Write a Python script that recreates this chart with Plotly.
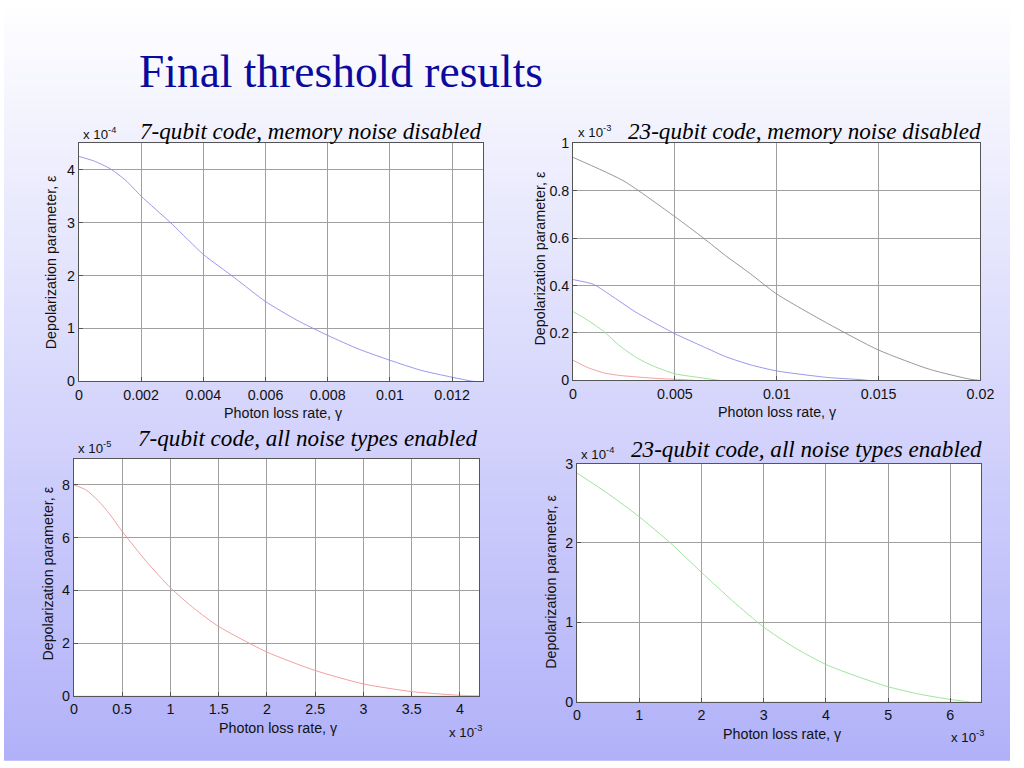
import plotly.graph_objects as go

# ---------------- data ----------------
# Panel 1: 7-qubit code, memory noise disabled  (eps in units of 1e-4)
p1_gamma = [0, 0.0005, 0.001, 0.0015, 0.002, 0.003, 0.004, 0.005, 0.006, 0.007, 0.008, 0.009, 0.010, 0.011, 0.012, 0.0127, 0.013]
p1_eps = [4.25, 4.16, 4.02, 3.80, 3.50, 2.97, 2.40, 1.96, 1.51, 1.16, 0.87, 0.61, 0.40, 0.21, 0.08, 0.0, 0.0]

# Panel 2: 23-qubit code, memory noise disabled (eps in units of 1e-3)
p2_gamma_black = [0, 0.0025, 0.005, 0.0064, 0.0075, 0.0087, 0.01, 0.0125, 0.015, 0.0175, 0.0195, 0.02]
p2_eps_black = [0.94, 0.84, 0.69, 0.60, 0.525, 0.45, 0.364, 0.24, 0.128, 0.047, 0.005, 0.0]
p2_gamma_blue = [0, 0.001, 0.002, 0.003, 0.004, 0.005, 0.0064, 0.0075, 0.0087, 0.01, 0.0125, 0.014, 0.0145]
p2_eps_blue = [0.425, 0.405, 0.35, 0.292, 0.243, 0.197, 0.142, 0.10, 0.066, 0.04, 0.0125, 0.004, 0.0]
p2_gamma_green = [0, 0.0007, 0.0015, 0.0023, 0.0031, 0.0039, 0.005, 0.0064, 0.0072]
p2_eps_green = [0.29, 0.255, 0.207, 0.145, 0.097, 0.062, 0.028, 0.01, 0.0]
p2_gamma_red = [0, 0.0007, 0.0015, 0.0023, 0.0031, 0.004, 0.005, 0.006]
p2_eps_red = [0.085, 0.055, 0.032, 0.021, 0.015, 0.009, 0.005, 0.0]

# Panel 3: 7-qubit code, all noise types enabled (gamma in 1e-3, eps in 1e-5)
p3_gamma = [0, 0.125, 0.25, 0.375, 0.5, 0.75, 1.0, 1.25, 1.5, 2.0, 2.5, 3.0, 3.5, 4.0, 4.2]
p3_eps = [8.0, 7.81, 7.41, 6.87, 6.24, 5.1, 4.1, 3.3, 2.63, 1.66, 0.96, 0.45, 0.16, 0.02, 0.0]

# Panel 4: 23-qubit code, all noise types enabled (gamma in 1e-3, eps in 1e-4)
p4_gamma = [0, 0.5, 1.0, 1.5, 2.0, 2.5, 3.0, 3.5, 4.0, 4.5, 5.0, 5.5, 6.0, 6.3]
p4_eps = [2.88, 2.62, 2.33, 2.0, 1.63, 1.27, 0.94, 0.68, 0.47, 0.32, 0.19, 0.097, 0.03, 0.0]

title_text = "Final threshold results"
subtitles = ["7-qubit code, memory noise disabled",
             "23-qubit code, memory noise disabled",
             "7-qubit code, all noise types enabled",
             "23-qubit code, all noise types enabled"]
xlabel = "Photon loss rate, γ"
ylabel = "Depolarization parameter, ε"

# ---------------- figure ----------------
W, H = 1024, 768
fig = go.Figure()

# the photographed page appears slightly scaled/offset; positions below are
# given in target-picture pixels and converted here
SX, OX = 0.984, 3.0
SY, OY = 0.978, 8.0
FS = 0.981

def px(x):
    return ((x - OX) / SX) / W

def py(y):
    return 1 - ((y - OY) / SY) / H

def fs(s):
    return s / FS

# plot boxes in target pixels: (left, right, top, bottom)
boxes = [(78, 483, 143, 381),
         (573, 981, 143, 380),
         (73, 479, 458, 695),
         (577, 982, 463, 701)]

shapes = []
# gradient background (colour set by target-picture row)
N = 96
c0 = (255, 255, 255)
c1 = (176, 176, 249)
for i in range(N):
    Y = (i + 0.5) / N * H
    t = min(1.0, max(0.0, (Y * SY + OY) / 768.0))
    col = tuple(int(round(c0[k] + (c1[k] - c0[k]) * t)) for k in range(3))
    shapes.append(dict(type="rect", xref="paper", yref="paper", x0=0, x1=1,
                       y0=1 - (i + 1) / N - 0.001, y1=1 - i / N,
                       fillcolor="rgb(%d,%d,%d)" % col, line=dict(width=0), layer="below"))
for (l, r, t, b) in boxes:
    shapes.append(dict(type="rect", xref="paper", yref="paper", x0=px(l), x1=px(r),
                       y0=py(b), y1=py(t), fillcolor="white", line=dict(width=0), layer="below"))

line_w = 0.9
blue = "#8c8ce8"
red = "#f09494"
green = "#94e094"
black = "#8c8c8c"

def curve(x, y, color, xa, ya):
    return go.Scatter(x=x, y=y, mode="lines",
                      line=dict(color=color, width=line_w, shape="spline", smoothing=0.6),
                      xaxis=xa, yaxis=ya, showlegend=False, hoverinfo="skip")

fig.add_trace(curve(p1_gamma, p1_eps, blue, "x", "y"))
fig.add_trace(curve(p2_gamma_black, p2_eps_black, black, "x2", "y2"))
fig.add_trace(curve(p2_gamma_blue, p2_eps_blue, blue, "x2", "y2"))
fig.add_trace(curve(p2_gamma_green, p2_eps_green, green, "x2", "y2"))
fig.add_trace(curve(p2_gamma_red, p2_eps_red, red, "x2", "y2"))
fig.add_trace(curve(p3_gamma, p3_eps, red, "x3", "y3"))
fig.add_trace(curve(p4_gamma, p4_eps, green, "x4", "y4"))

sans = "Liberation Sans, Arial, sans-serif"
serif = "Liberation Serif, Times New Roman, serif"

tick_font = dict(family=sans, size=fs(14), color="#111111")
axis_common = dict(showline=True, linecolor="#555555", linewidth=1, mirror=True,
                   showgrid=True, gridcolor="#a0a0a0", gridwidth=0.7,
                   ticks="inside", ticklen=4, tickcolor="#555555",
                   zeroline=False, tickfont=tick_font, fixedrange=True)

xranges = [[0, 0.013], [0, 0.02], [0, 4.2], [0, 6.5]]
xdticks = [0.002, 0.005, 0.5, 1]
yranges = [[0, 4.5], [0, 1], [0, 9], [0, 3]]
ydticks = [1, 0.2, 2, 1]

layout = {}
for i, (l, r, t, b) in enumerate(boxes):
    sfx = "" if i == 0 else str(i + 1)
    layout["xaxis" + sfx] = dict(axis_common, domain=[px(l), px(r)], range=xranges[i],
                                 tick0=0, dtick=xdticks[i], anchor="y" + sfx)
    layout["yaxis" + sfx] = dict(axis_common, domain=[py(b), py(t)], range=yranges[i],
                                 tick0=0, dtick=ydticks[i], anchor="x" + sfx)

annots = []

# main title
annots.append(dict(text=title_text, x=px(136), y=py(71), xref="paper", yref="paper",
                   xanchor="left", yanchor="middle", showarrow=False,
                   font=dict(family=serif, size=fs(44.6), color="#0a0a9c")))

# subtitles (right aligned)
sub_pos = [(483, 131), (984, 131), (480, 437), (985, 448)]
for s, (x, y) in zip(subtitles, sub_pos):
    annots.append(dict(text="<i>%s</i>" % s, x=px(x), y=py(y), xref="paper", yref="paper",
                       xanchor="right", yanchor="middle", showarrow=False,
                       font=dict(family=serif, size=fs(22.7), color="#000000")))

# y exponent labels
yexp = [("-4", 80, 133), ("-3", 576, 131), ("-5", 75, 447), ("-4", 579, 453)]
for e, x, y in yexp:
    annots.append(dict(text="x 10<sup>%s</sup>" % e, x=px(x), y=py(y), xref="paper", yref="paper",
                       xanchor="left", yanchor="middle", showarrow=False,
                       font=dict(family=sans, size=fs(13), color="#111111")))
# x exponent labels
xexp = [("-3", 484, 731), ("-3", 987, 736)]
for e, x, y in xexp:
    annots.append(dict(text="x 10<sup>%s</sup>" % e, x=px(x), y=py(y), xref="paper", yref="paper",
                       xanchor="right", yanchor="middle", showarrow=False,
                       font=dict(family=sans, size=fs(13), color="#111111")))

# x-axis titles
xt_pos = [(283, 413), (778, 412), (278, 727), (783, 733)]
for x, y in xt_pos:
    annots.append(dict(text=xlabel, x=px(x), y=py(y), xref="paper", yref="paper",
                       xanchor="center", yanchor="middle", showarrow=False,
                       font=dict(family=sans, size=fs(14), color="#111111")))
# y-axis titles
yt_pos = [(50, 262), (540, 258), (47, 573), (551, 581)]
for x, y in yt_pos:
    annots.append(dict(text=ylabel, x=px(x), y=py(y), xref="paper", yref="paper",
                       xanchor="center", yanchor="middle", showarrow=False, textangle=-90,
                       font=dict(family=sans, size=fs(14), color="#111111")))

fig.update_layout(width=W, height=H, margin=dict(l=0, r=0, t=0, b=0),
                  paper_bgcolor="#ffffff", plot_bgcolor="white",
                  shapes=shapes, annotations=annots, showlegend=False, **layout)

page_js = (
    "document.body.style.margin='0';"
    "document.body.style.overflow='hidden';"
    "document.body.style.background='transparent';"
    "document.documentElement.style.minHeight='100%';"
    "document.documentElement.style.background="
    "'linear-gradient(to bottom, #ffffff 0%, rgb(176,176,249) 100%)';"
)
fig.write_html("out.html", config={"displayModeBar": False}, post_script=page_js)
